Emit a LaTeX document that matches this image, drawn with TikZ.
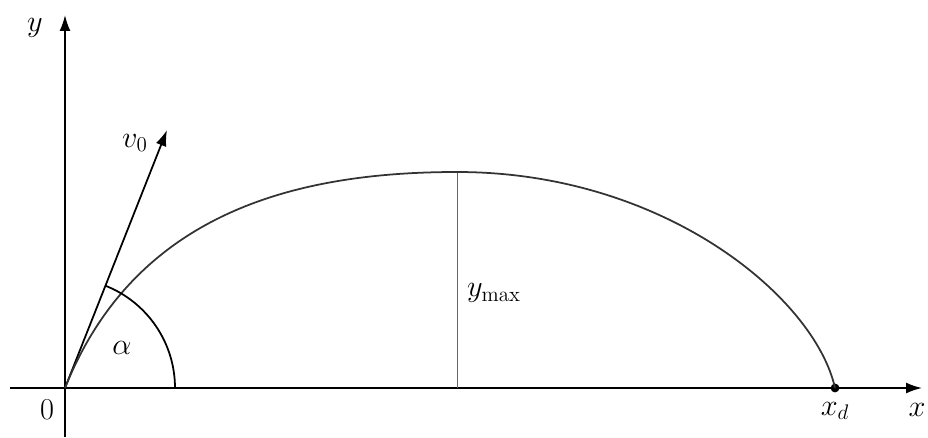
\documentclass[tikz,border=0pt]{standalone}
\usepackage{amsmath}
\usepackage{tikz}
\usetikzlibrary{arrows.meta,positioning,calc}
\tikzset{
  axis/.style={-{Latex[length=3.2mm,width=2.2mm]}, line width=1pt},
  arrow/.style={-{Latex[length=3.2mm,width=2.2mm]}, line width=1pt},
  curve/.style={line width=1pt, black!80},
  thinline/.style={line width=0.5pt, black!60},
  lbl/.style={inner sep=1pt, font=\LARGE},
  dot/.style={circle, fill=black, minimum size=5pt, inner sep=0pt}
}

\begin{document}
\begin{tikzpicture}[x=0.02cm, y=0.02cm]
\useasboundingbox (-65,-49) rectangle (863,388);
\coordinate (o) at (0,0);
\coordinate (xs) at (-55,0);
\coordinate (xe) at (857,0);
\coordinate (ys) at (0,-49);
\coordinate (ye) at (0,373);
\coordinate (v) at (102,258);
\coordinate (top) at (392,216);
\coordinate (foot) at (392,0);
\node[dot] (xd) at (770,0) {};
\draw[axis] (xs) -- (xe);
\draw[axis] (ys) -- (ye);
\draw[arrow] (o) -- (v);
\draw[thinline] (top) -- (foot);
% trajectory: rise to the top, then fall to x_d
\draw[curve] (o) .. controls (70,175) and (230,216) .. (top)
  .. controls (600,216) and (750,90) .. (xd.center);
\draw[line width=1pt] (110,0) arc[start angle=0, end angle=68.4, radius=110];
\node[lbl] (ylab) at (-30,360) {$y$};
\node[lbl] (xlab) at (852,-22) {$x$};
\node[lbl] (zero) at (-18,-22) {$0$};
\node[lbl, below=1.5mm of xd] (xdlab) {$x_d$};
\node[lbl] (vlab) at (70,245) {$v_0$};
\node[lbl] (alab) at (57,40) {$\alpha$};
\node[lbl, anchor=west] (ymax) at (400,95) {$y_{\text{max}}$};
\end{tikzpicture}
\end{document}
